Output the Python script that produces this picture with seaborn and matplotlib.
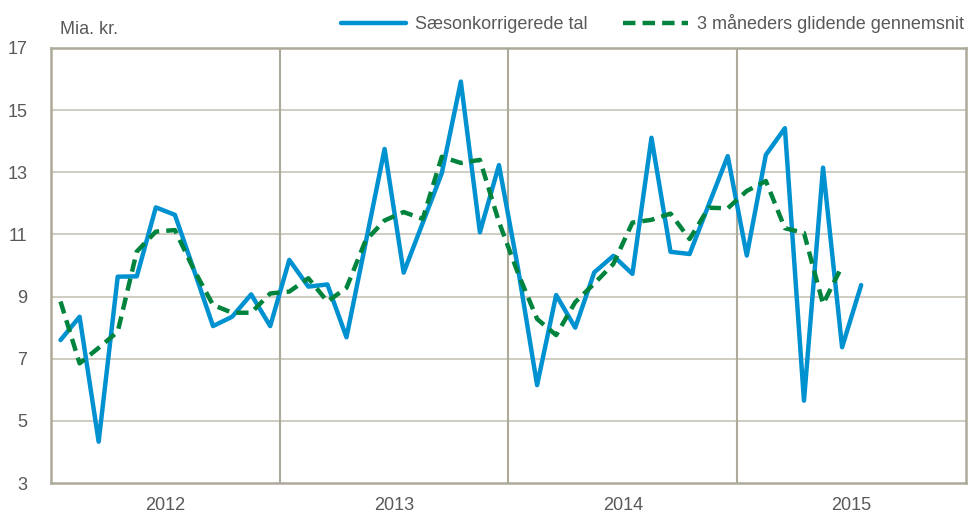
import numpy as np
import pandas as pd
import matplotlib
matplotlib.use("Agg")
import matplotlib.pyplot as plt
import seaborn as sns

# ------------------------------
# 데이터 (Jan 2012 - Jul 2015, mia. kr.)
# ------------------------------
years = ["2012", "2013", "2014", "2015"]
saeson = [7.60, 8.35, 4.33, 9.64, 9.65, 11.87, 11.63, 9.85, 8.05, 8.35, 9.07, 8.05,
          10.18, 9.32, 9.39, 7.69, 10.71, 13.75, 9.77, 11.37, 12.97, 15.92, 11.07, 13.23,
          9.90, 6.15, 9.05, 8.00, 9.78, 10.31, 9.73, 14.11, 10.44, 10.37, 11.95, 13.52,
          10.32, 13.56, 14.42, 5.65, 13.15, 7.37, 9.37]
glidende = [8.84, 6.85, 7.35, 7.87, 10.45, 11.09, 11.14, 9.86, 8.73, 8.48, 8.48, 9.10,
            9.16, 9.59, 8.84, 9.28, 10.80, 11.45, 11.72, 11.50, 13.50, 13.30, 13.40, 11.40,
            9.75, 8.28, 7.76, 8.82, 9.42, 10.05, 11.38, 11.47, 11.67, 10.85, 11.86, 11.84,
            12.40, 12.72, 11.20, 11.05, 8.76, 9.98, np.nan]
label_s = "Sæsonkorrigerede tal"
label_g = "3 måneders glidende gennemsnit"

df = pd.DataFrame({"month": np.arange(len(saeson)), "s": saeson, "g": glidende})

# ------------------------------
# 스타일
# ------------------------------
sns.set_style("white")
plt.rcParams["font.family"] = ["Liberation Sans", "DejaVu Sans"]
txt = "#595959"
grid_c = "#CBC8BD"
sep_c = "#ADAA9A"

fig = plt.figure(figsize=(9.7, 5.16), dpi=100)
ax = fig.add_axes([51 / 970, 1 - 483 / 516, 915 / 970, 435 / 516])

sns.lineplot(data=df, x="month", y="s", ax=ax, color="#0091D1", lw=3.2,
             label=label_s)
sns.lineplot(data=df, x="month", y="g", ax=ax, color="#00843D", lw=3.2,
             linestyle=(0, (2.8, 1.6)), label=label_g)

ax.set_xlim(-0.5, 47.5)
ax.set_ylim(3, 17)
ax.set_yticks(range(3, 18, 2))
ax.set_xticks([5.5, 17.5, 29.5, 41.5])
ax.set_xticklabels(years)
ax.set_xlabel("")
ax.set_ylabel("")
ax.tick_params(length=0, labelsize=13, colors=txt)
ax.tick_params(axis="y", pad=17)
ax.tick_params(axis="x", pad=10)

# 가로 격자선과 연도 구분선
for yv in range(5, 17, 2):
    ax.axhline(yv, color=grid_c, lw=1.3, zorder=0)
for xv in [11.5, 23.5, 35.5]:
    ax.axvline(xv, color=sep_c, lw=1.5, zorder=0)
for sp in ax.spines.values():
    sp.set_color(sep_c)
    sp.set_linewidth(1.8)

fig.text(60 / 970, 1 - 30 / 516, "Mia. kr.", fontsize=13, color=txt, va="center")

ax.legend(loc="lower right", bbox_to_anchor=(1.008, 1.013), ncol=2, frameon=False,
          fontsize=13, labelcolor=txt, handlelength=3.6, columnspacing=2.0,
          handletextpad=0.5, borderaxespad=0.4, borderpad=0.1)

fig.savefig("out.png", dpi=100)
